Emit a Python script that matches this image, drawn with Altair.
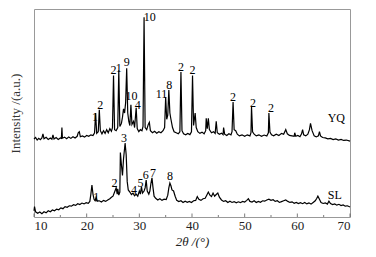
import altair as alt
import pandas as pd

# ---- data (x = 2theta in degrees, y = relative intensity) ----
yq_points = [
    (10.0, 37.5), (10.3, 38.2), (10.6, 37.0), (10.9, 37.8), (11.2, 37.2), (11.5, 38.0), (11.7, 40.0),
    (11.9, 37.6), (12.3, 38.3), (12.7, 37.3), (13.1, 38.0), (13.4, 37.4), (13.6, 39.5), (13.8, 37.5),
    (14.2, 38.2), (14.6, 37.3), (15.0, 38.0), (15.2, 37.8), (15.3, 43.0), (15.4, 37.9), (15.8, 38.4),
    (16.2, 37.6), (16.6, 38.5), (17.0, 37.8), (17.4, 38.6), (17.8, 38.0), (18.2, 38.8), (18.4, 40.5),
    (18.6, 41.0), (18.8, 38.6), (19.2, 39.0), (19.6, 38.4), (20.0, 39.2), (20.4, 38.8), (20.8, 39.5),
    (21.2, 39.2), (21.5, 40.5), (21.7, 50.0), (21.9, 40.2), (22.2, 41.0), (22.4, 51.5), (22.6, 41.5),
    (22.9, 40.0), (23.2, 41.5), (23.5, 40.2), (23.8, 42.0), (24.1, 40.5), (24.4, 42.5), (24.7, 41.2),
    (24.9, 43.0), (25.1, 68.0), (25.3, 42.0), (25.6, 41.5), (25.9, 43.0), (26.1, 70.5), (26.3, 43.5),
    (26.6, 45.0), (26.8, 48.0), (27.0, 52.0), (27.2, 50.0), (27.4, 55.0), (27.6, 71.5), (27.8, 50.0),
    (28.0, 46.0), (28.2, 44.0), (28.4, 54.0), (28.6, 44.5), (28.9, 46.0), (29.1, 43.0), (29.4, 52.5),
    (29.6, 42.5), (29.9, 41.0), (30.2, 42.0), (30.5, 41.5), (30.7, 43.5), (30.9, 96.0), (31.1, 43.0),
    (31.4, 42.0), (31.7, 44.5), (31.9, 45.5), (32.1, 41.5), (32.5, 40.5), (32.9, 41.2), (33.3, 40.3),
    (33.7, 41.0), (34.1, 40.5), (34.5, 41.5), (34.8, 43.0), (35.0, 57.7), (35.2, 47.0), (35.4, 49.0),
    (35.6, 61.0), (35.8, 50.0), (36.0, 47.0), (36.3, 43.0), (36.6, 41.0), (37.0, 40.5), (37.4, 40.0),
    (37.7, 41.0), (37.9, 69.7), (38.1, 41.5), (38.4, 40.0), (38.8, 39.5), (39.2, 40.2), (39.6, 39.6),
    (39.9, 41.0), (40.1, 68.0), (40.3, 44.0), (40.6, 50.0), (40.8, 43.0), (41.1, 41.0), (41.5, 40.2),
    (41.9, 40.8), (42.3, 40.0), (42.6, 41.5), (42.7, 47.5), (42.9, 42.5), (43.1, 47.5), (43.3, 42.0),
    (43.7, 40.5), (44.1, 41.0), (44.4, 40.2), (44.6, 46.0), (44.8, 40.5), (45.2, 39.8), (45.6, 40.3),
    (45.9, 39.6), (46.0, 43.0), (46.2, 39.8), (46.6, 39.2), (47.0, 40.0), (47.4, 39.5), (47.6, 41.0),
    (47.8, 55.3), (48.0, 42.0), (48.3, 41.5), (48.6, 39.8), (49.0, 39.0), (49.5, 39.5), (50.0, 38.8),
    (50.5, 39.5), (51.0, 39.0), (51.2, 40.5), (51.3, 53.0), (51.5, 41.0), (51.8, 39.8), (52.2, 39.0),
    (52.7, 39.5), (53.2, 38.8), (53.7, 39.4), (54.2, 38.9), (54.5, 40.5), (54.6, 50.0), (54.8, 40.8),
    (55.1, 39.5), (55.5, 39.0), (56.0, 39.8), (56.5, 39.2), (57.0, 40.2), (57.4, 39.8), (57.8, 42.0),
    (58.1, 40.0), (58.5, 39.2), (59.0, 39.0), (59.4, 38.8), (59.5, 40.5), (59.7, 38.8), (60.1, 39.2),
    (60.5, 38.6), (60.8, 40.0), (61.0, 42.0), (61.2, 39.5), (61.6, 39.0), (62.0, 39.8), (62.3, 42.0),
    (62.5, 45.0), (62.8, 41.5), (63.2, 39.0), (63.6, 38.5), (64.0, 39.0), (64.2, 41.0), (64.4, 39.0),
    (64.8, 38.2), (65.3, 38.0), (65.8, 37.6), (66.3, 37.8), (66.8, 37.2), (67.3, 37.5), (67.8, 37.0),
    (68.3, 37.3), (68.8, 36.8), (69.3, 37.0), (70.0, 36.5),
]

sl_points = [
    (10.0, 3.0), (10.1, 5.0), (10.3, 2.5), (10.7, 1.8), (11.1, 2.4), (11.5, 1.6), (11.9, 2.5),
    (12.3, 2.0), (12.7, 3.0), (13.1, 2.5), (13.5, 3.4), (13.9, 3.0), (14.3, 3.8), (14.7, 3.5),
    (15.1, 4.4), (15.5, 4.0), (15.9, 5.0), (16.3, 4.7), (16.7, 5.4), (17.1, 5.2), (17.5, 5.9),
    (17.9, 5.6), (18.3, 6.4), (18.7, 6.0), (19.1, 6.7), (19.5, 6.3), (19.9, 6.9), (20.3, 6.6),
    (20.6, 7.5), (20.8, 11.0), (21.0, 15.4), (21.2, 11.0), (21.4, 8.5), (21.6, 7.8), (21.8, 9.5),
    (22.0, 7.6), (22.4, 7.8), (22.8, 7.2), (23.2, 8.0), (23.6, 7.5), (24.0, 8.2), (24.4, 8.8),
    (24.7, 9.5), (25.0, 10.0), (25.3, 12.0), (25.6, 14.0), (25.8, 11.0), (25.9, 13.5), (26.1, 10.5),
    (26.3, 12.0), (26.4, 31.0), (26.6, 25.0), (26.8, 20.0), (27.0, 28.0), (27.3, 35.6), (27.5, 30.0),
    (27.7, 17.0), (27.9, 13.0), (28.2, 12.0), (28.5, 10.8), (28.8, 11.5), (29.1, 10.2), (29.4, 11.0),
    (29.7, 10.0), (30.0, 12.5), (30.2, 11.0), (30.4, 14.6), (30.6, 11.5), (30.9, 12.5), (31.1, 14.0),
    (31.3, 17.8), (31.5, 12.5), (31.8, 11.0), (32.0, 12.5), (32.2, 16.0), (32.4, 18.8), (32.6, 14.0),
    (32.8, 10.0), (33.1, 9.0), (33.5, 8.2), (33.9, 8.8), (34.3, 8.0), (34.7, 8.6), (35.1, 8.4),
    (35.4, 10.5), (35.6, 14.0), (35.8, 16.3), (36.0, 15.0), (36.2, 13.0), (36.5, 12.5), (36.8, 10.0),
    (37.1, 8.0), (37.5, 7.4), (37.9, 7.8), (38.3, 7.0), (38.7, 7.6), (39.1, 7.1), (39.5, 7.5),
    (39.9, 7.0), (40.3, 7.8), (40.7, 8.0), (41.0, 9.8), (41.3, 8.5), (41.7, 8.0), (42.1, 8.8),
    (42.5, 9.0), (42.8, 10.5), (43.1, 12.0), (43.4, 10.5), (43.7, 9.8), (44.0, 11.5), (44.3, 10.0),
    (44.6, 10.8), (44.9, 11.5), (45.2, 9.5), (45.6, 8.2), (46.0, 7.5), (46.4, 7.8), (46.8, 7.0),
    (47.2, 7.6), (47.6, 7.0), (48.0, 7.4), (48.4, 6.8), (48.8, 7.3), (49.2, 6.9), (49.6, 7.5),
    (50.0, 7.2), (50.4, 8.0), (50.7, 8.8), (51.0, 7.5), (51.4, 7.2), (51.8, 7.8), (52.2, 7.0),
    (52.6, 7.5), (53.0, 7.1), (53.4, 7.8), (53.8, 7.6), (54.2, 8.2), (54.6, 8.6), (55.0, 8.0),
    (55.4, 8.3), (55.8, 7.5), (56.2, 7.8), (56.6, 7.0), (57.0, 7.4), (57.4, 7.8), (57.8, 8.2),
    (58.2, 7.5), (58.6, 7.0), (59.0, 7.3), (59.4, 6.6), (59.8, 7.0), (60.2, 6.5), (60.6, 6.9),
    (61.0, 6.4), (61.4, 7.0), (61.8, 6.3), (62.2, 6.8), (62.6, 6.2), (63.0, 7.0), (63.4, 7.8),
    (63.7, 9.0), (63.9, 10.0), (64.2, 8.5), (64.5, 7.0), (64.9, 6.5), (65.3, 6.8), (65.7, 6.2),
    (66.0, 7.6), (66.3, 6.5), (66.7, 6.0), (67.1, 6.3), (67.5, 5.7), (67.9, 6.1), (68.3, 5.5),
    (68.7, 5.8), (69.1, 5.2), (69.5, 5.4), (70.0, 4.8),
]

# peak annotations (text, x, y)
label_text = ["1", "2", "2", "1", "9", "10", "4", "10", "11", "8", "2", "2", "2", "2", "2", "YQ",
              "1", "2", "3", "4", "5", "6", "7", "8", "SL"]
label_x = [21.6, 22.6, 25.1, 26.1, 27.6, 28.5, 29.7, 32.0, 34.2, 35.7, 37.9, 40.1, 47.8, 51.6, 55.0, 67.4,
           21.8, 25.3, 27.1, 29.0, 30.2, 31.2, 32.6, 35.8, 67.1]
label_y = [48.2, 53.8, 70.7, 71.8, 74.4, 58.0, 53.8, 96.2, 59.0, 63.5, 72.3, 70.7, 57.7, 54.8, 52.4, 47.4,
           9.8, 16.2, 37.8, 13.0, 16.2, 20.2, 21.3, 19.7, 10.6]

x_tick_labels = [10, 20, 30, 40, 50, 60, 70]
x_minor_ticks = [15, 25, 35, 45, 55, 65]

FONT = "Liberation Serif"
W, H = 316, 208

lines_df = pd.concat([
    pd.DataFrame(yq_points, columns=["x", "y"]).assign(series="YQ"),
    pd.DataFrame(sl_points, columns=["x", "y"]).assign(series="SL"),
])
labels_df = pd.DataFrame({"text": label_text, "x": label_x, "y": label_y})
major_df = pd.DataFrame({"x": x_tick_labels})
minor_df = pd.DataFrame({"x": x_minor_ticks})

xscale = alt.Scale(domain=[10, 70], nice=False, zero=False)
yscale = alt.Scale(domain=[0, 100], nice=False, zero=False)

x_axis = alt.Axis(values=x_tick_labels, ticks=False, domain=False, grid=False,
                  labelFont=FONT, labelFontSize=13, labelColor="#222", labelPadding=2,
                  title="2θ /(°)", titleFont=FONT, titleFontSize=13,
                  titleFontWeight="normal", titleFontStyle="italic",
                  titleColor="#222", titlePadding=3)
y_axis = alt.Axis(labels=False, ticks=False, domain=False, grid=False,
                  title="Intensity /(a.u.)", titleFont=FONT, titleFontSize=13,
                  titleFontWeight="normal", titleColor="#333", titlePadding=12)

lines = alt.Chart(lines_df).mark_line(color="black", strokeWidth=1.2).encode(
    x=alt.X("x:Q", scale=xscale, axis=x_axis),
    y=alt.Y("y:Q", scale=yscale, axis=y_axis),
    detail="series:N",
)

# inward tick marks along the bottom edge
major_ticks = alt.Chart(major_df).mark_tick(color="#444", thickness=1, size=3.5).encode(
    x=alt.X("x:Q", scale=xscale, axis=x_axis),
    y=alt.value(H - 1.75),
)
minor_ticks = alt.Chart(minor_df).mark_tick(color="#444", thickness=1, size=2).encode(
    x=alt.X("x:Q", scale=xscale, axis=x_axis),
    y=alt.value(H - 1),
)

texts = alt.Chart(labels_df).mark_text(font=FONT, fontSize=12, color="black").encode(
    x=alt.X("x:Q", scale=xscale, axis=x_axis),
    y=alt.Y("y:Q", scale=yscale, axis=y_axis),
    text="text:N",
)

chart = alt.layer(lines, texts, major_ticks, minor_ticks).properties(
    width=W, height=H,
    padding={"left": 1, "top": 1, "right": 8, "bottom": 0},
    background="white",
).configure_view(stroke="#999", strokeWidth=1)

chart.save("out.html", embed_options={"renderer": "svg", "actions": False})
